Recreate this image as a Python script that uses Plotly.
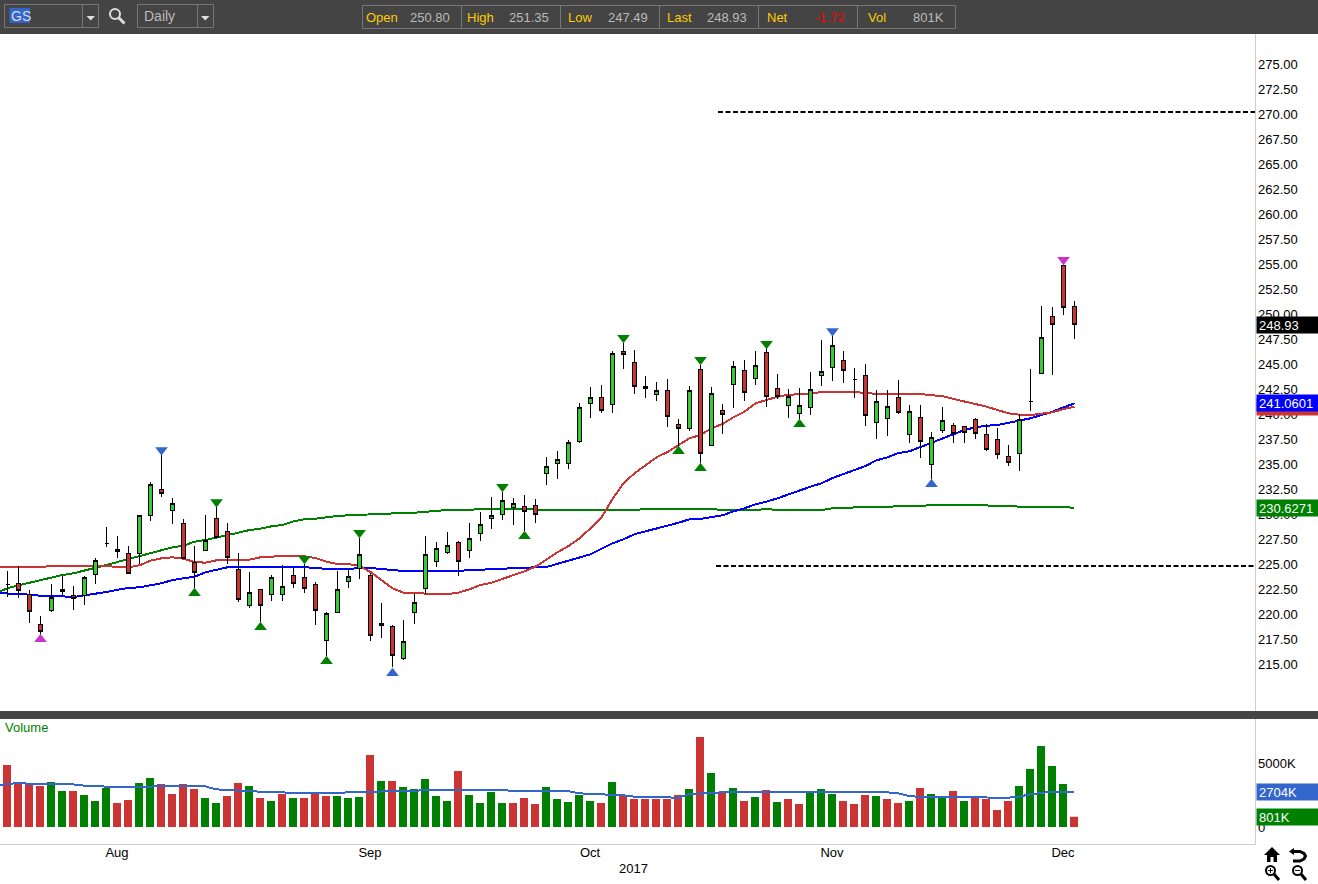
import plotly.graph_objects as go

W, H = 1318, 884

# Trading dates: the first one sits just off the left edge and only carries the averages
dates = ["2017-07-17","2017-07-18","2017-07-19","2017-07-20","2017-07-21","2017-07-24","2017-07-25","2017-07-26","2017-07-27","2017-07-28","2017-07-31",
"2017-08-01","2017-08-02","2017-08-03","2017-08-04","2017-08-07","2017-08-08","2017-08-09","2017-08-10","2017-08-11","2017-08-14","2017-08-15","2017-08-16","2017-08-17","2017-08-18","2017-08-21","2017-08-22","2017-08-23","2017-08-24","2017-08-25","2017-08-28","2017-08-29","2017-08-30","2017-08-31",
"2017-09-01","2017-09-05","2017-09-06","2017-09-07","2017-09-08","2017-09-11","2017-09-12","2017-09-13","2017-09-14","2017-09-15","2017-09-18","2017-09-19","2017-09-20","2017-09-21","2017-09-22","2017-09-25","2017-09-26","2017-09-27","2017-09-28","2017-09-29",
"2017-10-02","2017-10-03","2017-10-04","2017-10-05","2017-10-06","2017-10-09","2017-10-10","2017-10-11","2017-10-12","2017-10-13","2017-10-16","2017-10-17","2017-10-18","2017-10-19","2017-10-20","2017-10-23","2017-10-24","2017-10-25","2017-10-26","2017-10-27","2017-10-30","2017-10-31",
"2017-11-01","2017-11-02","2017-11-03","2017-11-06","2017-11-07","2017-11-08","2017-11-09","2017-11-10","2017-11-13","2017-11-14","2017-11-15","2017-11-16","2017-11-17","2017-11-20","2017-11-21","2017-11-22","2017-11-24","2017-11-27","2017-11-28","2017-11-29","2017-11-30",
"2017-12-01","2017-12-04"]
bar_dates = dates[1:]

opens = [222.97,223.07,221.97,218.97,220.33,222.47,221.87,221.87,223.97,227.10,226.47,226.07,226.07,229.87,232.43,230.37,229.07,225.17,226.33,229.57,
228.27,224.47,220.87,222.47,221.97,221.97,223.87,223.67,222.97,217.37,220.20,223.23,224.53,223.87,219.07,218.77,215.53,220.13,222.57,225.27,
226.13,227.17,226.37,228.03,229.57,229.97,230.67,230.77,230.87,234.03,235.07,235.07,237.23,241.03,241.67,240.93,246.27,245.17,242.77,241.93,
242.37,238.97,238.53,244.47,236.83,240.37,242.97,244.37,243.57,246.17,242.57,240.87,240.03,240.63,243.87,244.67,245.37,243.47,243.87,239.17,
239.57,241.67,237.97,239.67,234.97,238.37,238.87,238.77,239.47,237.97,237.47,235.77,236.07,241.30,244.03,249.77,254.87,250.80]
highs = [224.30,224.80,222.40,219.77,223.00,223.80,222.80,223.80,225.57,228.67,227.80,226.80,229.87,233.17,235.90,231.57,229.47,226.80,229.87,230.73,
229.07,226.07,224.20,222.47,223.87,224.87,224.57,225.00,223.17,220.17,224.30,224.57,227.63,224.07,221.07,218.90,219.37,222.00,227.80,227.20,
228.17,227.30,229.07,230.17,231.70,232.20,231.57,231.87,231.47,235.67,236.30,237.40,241.07,242.67,242.87,246.27,247.13,246.37,243.77,243.17,
243.47,239.47,242.80,244.87,242.67,241.00,245.27,245.37,246.27,246.57,243.97,242.47,242.57,244.17,247.40,247.80,246.27,244.60,244.97,242.37,
242.37,243.37,240.87,240.87,238.17,240.67,239.07,238.77,239.57,238.97,238.57,236.87,239.97,244.47,250.80,250.67,254.87,251.35]
lows = [221.73,221.63,219.13,218.00,220.23,221.90,220.40,220.90,223.00,226.73,225.57,224.07,225.00,229.33,231.73,229.00,225.47,222.57,226.33,227.57,
225.00,221.17,220.57,219.23,221.33,221.30,222.63,222.13,218.90,215.80,220.13,222.63,223.53,217.33,217.63,214.67,215.43,219.03,222.03,224.73,
226.03,223.83,225.63,227.33,228.53,229.43,228.93,228.33,229.07,232.93,233.53,234.53,237.13,239.63,240.13,240.13,244.50,242.03,241.63,241.33,
238.73,236.73,238.33,235.10,236.83,238.03,240.63,241.33,242.93,240.73,241.53,239.63,239.47,239.93,242.83,243.33,243.13,241.63,238.83,237.53,
237.83,239.97,237.13,235.63,233.53,238.13,237.13,237.13,237.53,236.33,235.53,234.83,234.33,240.33,243.97,243.93,249.93,247.49]
closes = [222.97,222.33,220.23,218.23,221.67,222.23,221.57,223.67,225.33,227.10,226.23,224.07,229.87,232.97,232.07,231.07,225.57,224.17,227.37,227.67,
225.67,221.47,222.17,220.87,223.67,222.77,223.03,222.57,220.37,220.07,222.47,223.77,225.97,217.87,218.83,215.83,217.27,221.17,225.97,226.57,
226.87,225.27,227.57,228.97,229.87,231.37,231.07,230.27,229.97,234.77,235.47,237.17,240.67,241.67,240.33,246.07,245.93,242.73,242.53,242.37,
239.73,238.53,242.37,236.07,242.07,239.93,244.77,242.17,244.87,241.73,241.73,241.77,240.87,242.47,244.27,246.87,244.37,243.47,239.87,241.27,
240.77,240.17,240.27,237.27,237.67,239.37,238.07,238.17,238.07,236.43,235.97,235.17,239.47,241.30,247.67,248.97,250.67,248.93]

ma_red = [224.70,224.70,224.70,224.70,224.70,224.80,224.80,224.80,224.80,224.80,224.80,224.70,224.67,224.87,225.33,225.57,225.67,225.53,225.20,225.13,
225.37,225.43,225.40,225.43,225.67,225.77,225.80,225.80,225.77,225.60,225.23,225.00,225.00,224.80,224.20,223.40,222.57,222.13,222.07,222.00,
222.00,222.00,222.13,222.47,222.90,223.13,223.50,223.87,224.27,224.73,225.47,226.17,226.80,227.57,228.57,229.67,231.50,233.07,234.07,234.83,
235.67,236.20,236.90,237.57,237.90,238.57,239.00,239.67,240.23,241.07,241.40,241.73,241.93,242.00,242.00,242.23,242.23,242.23,242.23,242.07,
242.00,242.00,242.00,242.00,242.00,241.87,241.80,241.50,241.27,241.00,240.73,240.40,240.07,239.93,239.90,240.03,240.17,240.50,240.73]
ma_blue = [222.07,222.07,222.03,221.93,221.83,221.83,221.73,221.70,221.87,222.03,222.20,222.43,222.60,222.67,222.90,223.07,223.40,223.57,223.73,224.17,
224.40,224.67,224.70,224.70,224.70,224.70,224.70,224.70,224.70,224.57,224.50,224.50,224.50,224.60,224.60,224.53,224.40,224.30,224.30,224.37,
224.37,224.30,224.30,224.40,224.40,224.47,224.53,224.60,224.60,224.67,224.70,225.00,225.33,225.60,225.97,226.53,227.07,227.47,227.97,228.27,
228.53,228.83,229.13,229.47,229.50,229.67,229.87,230.27,230.57,230.97,231.23,231.57,231.97,232.30,232.73,233.07,233.60,234.00,234.40,234.80,
235.37,235.67,236.10,236.27,236.70,237.13,237.57,238.00,238.40,238.67,238.83,238.90,239.13,239.40,239.57,239.90,240.23,240.67,241.06]
ma_green = [222.13,222.57,222.87,223.13,223.40,223.63,223.90,224.07,224.33,224.57,224.90,225.20,225.50,225.83,226.13,226.43,226.67,226.83,227.23,227.40,
227.63,227.87,228.13,228.40,228.53,228.77,228.90,229.27,229.47,229.53,229.67,229.80,229.87,229.93,229.97,230.03,230.10,230.10,230.13,230.23,
230.30,230.40,230.40,230.47,230.47,230.47,230.47,230.43,230.40,230.40,230.40,230.40,230.40,230.40,230.40,230.40,230.40,230.40,230.40,230.50,
230.50,230.50,230.50,230.50,230.50,230.50,230.40,230.40,230.40,230.40,230.50,230.40,230.40,230.40,230.40,230.40,230.57,230.63,230.70,230.70,
230.70,230.70,230.80,230.80,230.80,230.90,230.90,230.90,230.90,230.90,230.83,230.83,230.83,230.73,230.73,230.70,230.70,230.68,230.63]

volumes = [4844,3489,3411,3203,3516,2812,2812,2500,2031,3047,1875,2109,3437,3828,3359,2578,3359,2969,2265,1875,
2422,3437,3203,2265,2031,2578,2265,2265,2578,2422,2422,2265,2344,5625,3594,3594,3125,2969,3750,2422,
2031,4375,2500,1875,2734,1875,1875,2265,1797,3125,2187,1953,2500,2031,1875,3516,2422,2187,2187,2187,
2187,2500,2969,7031,4219,2656,3047,2031,2344,2890,1953,2187,1797,2734,2969,2578,2031,1797,2500,2422,
2187,1875,2031,3047,2578,2344,2812,2031,2344,2187,1328,2031,3203,4531,6328,4765,3359,801]
vol_dir = ("d d d d u u d u u u d d u u d d d d u u d d u d u d u d d d u u u d u d u u u "
           "u u d u u u u d d d u u u u u d u d d d d d d u d u d u d u d u d d u u u d d d "
           "u d d u d u u d u d d d d u u u u u d").split()
vol_ma = [3255,3333,3437,3385,3359,3359,3359,3333,3229,3229,3151,3151,3151,3125,3151,3229,3229,3229,3229,3177,
2943,2890,2812,2812,2760,2760,2682,2656,2656,2656,2656,2656,2656,2708,2734,2786,2812,2812,2838,2890,
2890,2917,2890,2890,2890,2864,2838,2838,2838,2812,2812,2812,2812,2630,2604,2578,2500,2474,2370,2344,
2344,2292,2292,2552,2604,2708,2760,2760,2760,2760,2760,2760,2760,2760,2760,2760,2760,2760,2760,2760,
2760,2708,2630,2422,2344,2344,2344,2344,2344,2344,2292,2292,2292,2370,2552,2656,2760,2704,2704]

# Signal markers: (date, price)
mark_up_green_d = ["2017-08-10","2017-08-18","2017-08-28","2017-09-22","2017-10-12","2017-10-16","2017-10-27"]
mark_up_green_p = [222.07,218.67,215.27,227.77,236.27,234.57,238.97]
mark_dn_green_d = ["2017-08-14","2017-08-24","2017-08-31","2017-09-20","2017-10-05","2017-10-16","2017-10-24"]
mark_dn_green_p = [231.20,225.53,228.13,232.73,247.63,245.43,247.03]
mark_up_blue_d = ["2017-09-06","2017-11-14"]
mark_up_blue_p = [214.07,232.97]
mark_dn_blue_d = ["2017-08-07","2017-11-01"]
mark_dn_blue_p = [236.40,248.30]
mark_up_mag_d = ["2017-07-21"]
mark_up_mag_p = [217.47]
mark_dn_mag_d = ["2017-12-01"]
mark_dn_mag_p = [255.43]

level_upper, level_lower = 270.2, 224.8
price_ticks = [215,217.5,220,222.5,225,227.5,230,232.5,235,237.5,240,242.5,245,247.5,250,252.5,255,257.5,260,262.5,265,267.5,270,272.5,275]
vol_ticks = [0, 5000]
vol_tick_text = ["0", "5000K"]
month_ticks = ["2017-08-01","2017-09-01","2017-10-02","2017-11-01","2017-12-01"]
month_text = ["Aug","Sep","Oct","Nov","Dec"]

C_UP, C_DN, C_VG = "#33CC33", "#CC3333", "#008000"
C_BAR, C_BLUE, C_VBLUE, C_MAG = "#444444", "#0000FF", "#3366CC", "#CC33CC"
FONT = "Liberation Sans"

def fx(x): return x / W
def fy(y): return 1 - y / H

fig = go.Figure()
for vals, col in ((ma_green, C_VG), (ma_blue, C_BLUE), (ma_red, C_DN)):
    fig.add_trace(go.Scatter(x=dates, y=vals, mode="lines", line=dict(color=col, width=2), zorder=0, hoverinfo="skip"))
fig.add_trace(go.Candlestick(x=bar_dates, open=opens, high=highs, low=lows, close=closes, whiskerwidth=0, zorder=1,
    increasing=dict(fillcolor=C_UP, line=dict(color="#000000", width=1)),
    decreasing=dict(fillcolor=C_DN, line=dict(color="#000000", width=1))))
for d, p, sym, col in ((mark_up_green_d, mark_up_green_p, "triangle-up", C_VG), (mark_dn_green_d, mark_dn_green_p, "triangle-down", C_VG),
                       (mark_up_blue_d, mark_up_blue_p, "triangle-up", C_VBLUE), (mark_dn_blue_d, mark_dn_blue_p, "triangle-down", C_VBLUE),
                       (mark_up_mag_d, mark_up_mag_p, "triangle-up", C_MAG), (mark_dn_mag_d, mark_dn_mag_p, "triangle-down", C_MAG)):
    fig.add_trace(go.Scatter(x=d, y=p, mode="markers", marker=dict(symbol=sym, size=11, color=col, line=dict(width=0)), zorder=2))

fig.add_trace(go.Bar(x=bar_dates, y=volumes, xaxis="x2", yaxis="y2", width=8/11,
                     marker=dict(color=[C_VG if v == "u" else C_DN for v in vol_dir], line=dict(width=0))))
fig.add_trace(go.Scatter(x=dates, y=vol_ma, xaxis="x2", yaxis="y2", mode="lines", line=dict(color=C_VBLUE, width=2)))

x_rng = [3.5/11, 1258.5/11]
x2_rng = [4/11, 1259/11]
shapes, annots = [], []

def rect(x0, y0, x1, y1, fill, line=None, lw=1):
    shapes.append(dict(type="rect", xref="paper", yref="paper", x0=fx(x0), x1=fx(x1), y0=fy(y0), y1=fy(y1),
                       fillcolor=fill, line=dict(color=line or fill, width=lw if line else 0), layer="above"))
def path(pts, fill=None, line=None, lw=1, close=True):
    d = "M" + " L".join(f"{fx(x):.5f},{fy(y):.5f}" for x, y in pts) + (" Z" if close else "")
    shapes.append(dict(type="path", xref="paper", yref="paper", path=d, fillcolor=fill or "rgba(0,0,0,0)",
                       line=dict(color=line or "rgba(0,0,0,0)", width=lw if line else 0), layer="above"))
def circle(x0, y0, x1, y1, line, lw, fill="rgba(0,0,0,0)"):
    shapes.append(dict(type="circle", xref="paper", yref="paper", x0=fx(x0), x1=fx(x1), y0=fy(y0), y1=fy(y1),
                       fillcolor=fill, line=dict(color=line, width=lw), layer="above"))
def text(x, y, s, color="#000000", size=13, anchor="left"):
    annots.append(dict(xref="paper", yref="paper", x=fx(x), y=fy(y), text=s, showarrow=False, xanchor=anchor, yanchor="middle",
                       font=dict(family=FONT, size=size, color=color), borderpad=0))
def tag(yref, val, s, bg):
    annots.append(dict(xref="paper", yref=yref, x=fx(1256), y=val, text=s, showarrow=False, xanchor="left", yanchor="middle",
                       width=57, height=12, align="left", bgcolor=bg, borderpad=2, font=dict(family=FONT, size=13, color="#FFFFFF")))

# Top toolbar and separator
rect(0, 0, W, 34, C_BAR)
rect(0, 711, 1318, 719, C_BAR)
# Panel frame
rect(1255, 34, 1256, 711, "#CCCCCC")
rect(1255, 719, 1256, 845, "#CCCCCC")
rect(0, 844, 1256, 845, "#CCCCCC")
EDGE = "#777777"
rect(4.5, 4.5, 98.5, 27.5, C_BAR, EDGE)
path([(82.5, 4.5), (82.5, 27.5)], line=EDGE, close=False)
rect(9.5, 8, 30, 23, C_VBLUE)
text(10, 15.5, "GS", "#DDDDDD", 14)
path([(86.5, 16), (95, 16), (90.75, 20.5)], fill="#DDDDDD")
circle(110, 9, 120, 19, "#DDDDDD", 2)
path([(118.5, 17.5), (124.5, 23.5)], line="#DDDDDD", lw=3, close=False)
rect(137.5, 4.5, 213.5, 27.5, C_BAR, EDGE)
path([(197.5, 4.5), (197.5, 27.5)], line=EDGE, close=False)
text(143, 15.5, "Daily", "#BBBBBB", 14)
path([(201, 16), (209.5, 16), (205.25, 20.5)], fill="#DDDDDD")
rect(362.5, 5.5, 955.5, 28.5, C_BAR, EDGE)
for sx in (461.5, 560.5, 659.5, 758.5, 857.5):
    path([(sx, 5.5), (sx, 28.5)], line=EDGE, close=False)
for lx, lb, vx, vl, vc in ((365, "Open", 451, "250.80", "#BBBBBB"), (466, "High", 550, "251.35", "#BBBBBB"),
                           (567, "Low", 649, "247.49", "#BBBBBB"), (666, "Last", 748, "248.93", "#BBBBBB"),
                           (766, "Net", 846, "-1.72", "#FF0000"), (867, "Vol", 945, "801K", "#BBBBBB")):
    text(lx, 17, lb, "#FFCC00", 13)
    text(vx, 17, vl, vc, 13, "right")

# Reference levels
for lvl, x0 in ((level_upper, 718), (level_lower, 716)):
    shapes.append(dict(type="line", xref="paper", yref="y", x0=fx(x0), x1=fx(1255), y0=lvl, y1=lvl,
                       line=dict(color="#000000", width=2, dash="5px,2.5px"), layer="above"))

# Price scale tags (last values)
tag("y", ma_red[-1], " ", C_DN)
tag("y", closes[-1], f"{closes[-1]:.2f}", "#000000")
tag("y", 241.0601, "241.0601", C_BLUE)
tag("y", 230.6271, "230.6271", C_VG)
tag("y2", 2704, "2704K", C_VBLUE)
tag("y2", volumes[-1], "801K", C_VG)

text(4, 727.5, "Volume", "#008000", 13)
text(633, 868, "2017", "#000000", 13, "center")

# Navigation icons
path([(1272, 847), (1280, 855), (1277, 855), (1277, 862), (1273.5, 862), (1273.5, 857), (1270.5, 857), (1270.5, 862), (1267, 862), (1267, 855), (1264, 855)], fill="#000000")
path([(1294, 848), (1294, 855), (1289, 851.5)], fill="#000000")
path([(1293, 851.5), (1300, 851.5), (1304, 853.5), (1305.5, 856), (1304, 859), (1300, 861), (1293, 861)], line="#000000", lw=3, close=False)
for cx, plus in ((1271, True), (1298, False)):
    circle(cx - 5, 866, cx + 4, 875, "#000000", 2)
    path([(cx + 3, 874), (cx + 8, 880)], line="#000000", lw=3, close=False)
    path([(cx - 3, 870.5), (cx + 2, 870.5)], line="#000000", lw=1, close=False)
    if plus:
        path([(cx - 0.5, 868), (cx - 0.5, 873)], line="#000000", lw=1, close=False)

fig.update_layout(
    width=W, height=H, margin=dict(l=0, r=0, t=0, b=0, pad=0), paper_bgcolor="#FFFFFF", plot_bgcolor="#FFFFFF",
    showlegend=False, boxgap=1 - 4/11, boxgroupgap=0, barmode="overlay", dragmode=False, hovermode=False,
    shapes=shapes, annotations=annots,
    xaxis=dict(domain=[0, fx(1255)], anchor="y", type="category", categoryorder="array", categoryarray=dates, range=x_rng,
               rangeslider=dict(visible=False), showticklabels=False, showgrid=False, zeroline=False, ticks=""),
    yaxis=dict(domain=[fy(711), fy(34)], anchor="x", side="right", range=[210.3, 278], tickvals=price_ticks, tickformat=".2f",
               showgrid=False, zeroline=False, ticks="", ticklabelstandoff=2, tickfont=dict(family=FONT, size=13, color="#000000")),
    xaxis2=dict(domain=[0, fx(1255)], anchor="y2", type="category", categoryorder="array", categoryarray=dates, range=x2_rng,
                tickmode="array", tickvals=month_ticks, ticktext=month_text, showgrid=False, zeroline=False, ticks="",
                ticklabelstandoff=-1, tickangle=0, tickfont=dict(family=FONT, size=13, color="#000000")),
    yaxis2=dict(domain=[fy(844), fy(719)], anchor="x2", side="right", range=[-1328.125, 8437.5], tickmode="array", tickvals=vol_ticks,
                ticktext=vol_tick_text, showgrid=False, zeroline=False, ticks="", ticklabelstandoff=2,
                tickfont=dict(family=FONT, size=13, color="#000000")),
)

crisp = """
document.body.style.margin='0';document.documentElement.style.overflow='hidden';
document.querySelectorAll('g.trace.boxes path, g.scatterlayer path.js-line, g.scatterlayer .points path').forEach(function(p){p.style.shapeRendering='crispEdges';});
"""
fig.write_html("out.html", config=dict(displayModeBar=False, responsive=False), post_script=crisp)
